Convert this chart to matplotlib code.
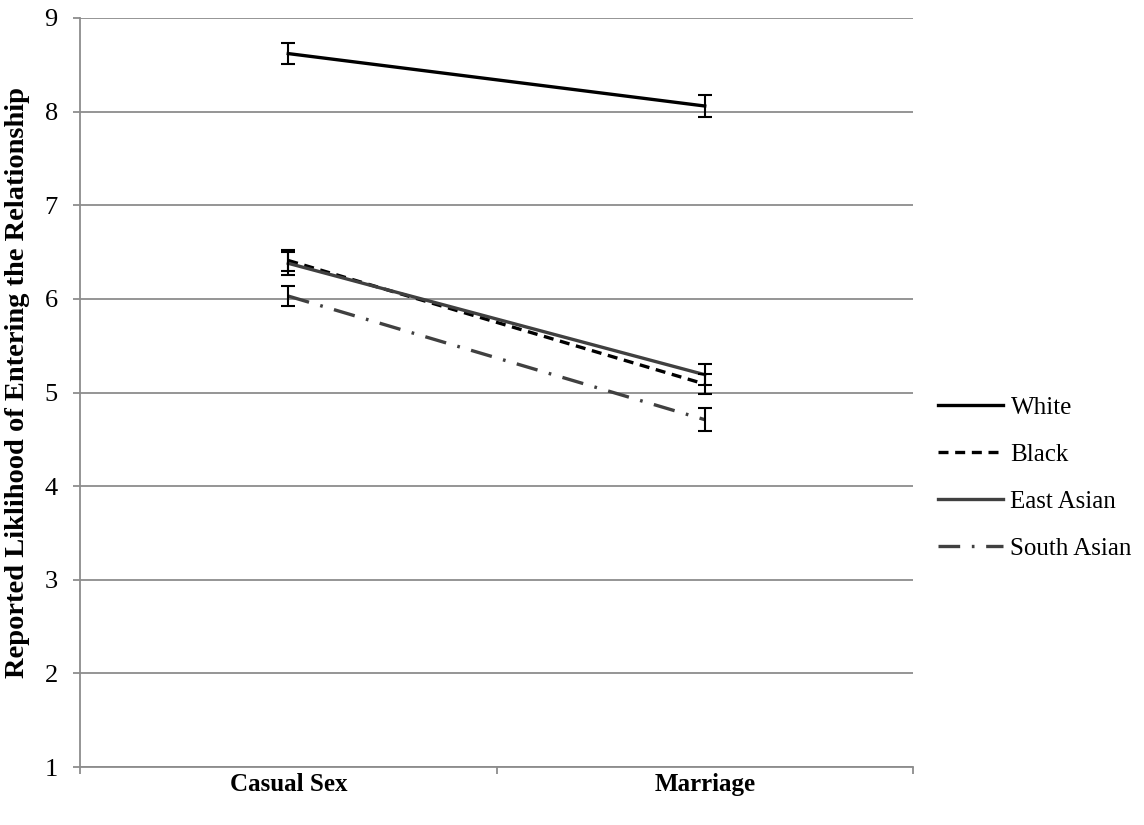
import matplotlib.pyplot as plt

categories = ["Casual Sex", "Marriage"]
groups = ["White", "Black", "East Asian", "South Asian"]
white = [8.62, 8.06]
black = [6.41, 5.09]
east_asian = [6.38, 5.19]
south_asian = [6.03, 4.71]
white_err = [0.11, 0.12]
black_err = [0.11, 0.11]
east_asian_err = [0.12, 0.11]
south_asian_err = [0.11, 0.12]

plt.rcParams['font.family'] = ['Liberation Serif', 'DejaVu Serif']

fig = plt.figure(figsize=(11.44, 8.25), dpi=100)
ax = fig.add_axes([80 / 1144, 1 - 767 / 825, (913 - 80) / 1144, (767 - 18) / 825])

styles = [
    dict(color="black", linestyle="-", linewidth=2.4),
    dict(color="black", linestyle=(0, (3.0, 2.0)), linewidth=2.4),
    dict(color="#404040", linestyle="-", linewidth=2.4),
    dict(color="#404040", linestyle=(0, (6.5, 3.5, 0.8, 3.5)), linewidth=2.4),
]
xs = [0, 1]
for name, vals, errs, st in zip(groups, [white, black, east_asian, south_asian],
                                [white_err, black_err, east_asian_err, south_asian_err], styles):
    ax.plot(xs, vals, label=name, zorder=3, **st)
    ax.errorbar(xs, vals, yerr=errs, fmt="none", ecolor="black", elinewidth=1.5,
                capsize=5, capthick=1.5, zorder=4)

ax.set_xlim(-0.5, 1.5)
ax.set_ylim(1, 9)
ax.set_yticks(range(1, 10))
ax.yaxis.grid(True, color="#8c8c8c", linewidth=1.3)
ax.set_axisbelow(True)
ax.set_xticks([-0.5, 0.5, 1.5])
ax.set_xticklabels([])
ax.set_xticks(xs, minor=True)
ax.set_xticklabels(categories, minor=True, fontweight="bold", fontsize=18)
ax.tick_params(axis="x", which="minor", length=0, pad=4)
ax.tick_params(axis="x", which="major", length=5, color="#8c8c8c", width=1.3)
ax.tick_params(axis="y", length=5, color="#8c8c8c", width=1.3, labelsize=19, pad=11)
for s in ["top", "right"]:
    ax.spines[s].set_visible(False)
for s in ["left", "bottom"]:
    ax.spines[s].set_color("#8c8c8c")
    ax.spines[s].set_linewidth(1.3)

ax.set_ylabel("Reported Liklihood of Entering the Relationship", fontweight="bold",
              fontsize=20.5)
ax.yaxis.set_label_coords(-50 / 833, 0.514)

fig.legend(loc="center left", bbox_to_anchor=(928 / 1144, 1 - 478 / 825), frameon=False,
           fontsize=18, handlelength=2.6, handletextpad=0.3, labelspacing=0.98,
           borderaxespad=0)

fig.savefig("out.png", dpi=100)
